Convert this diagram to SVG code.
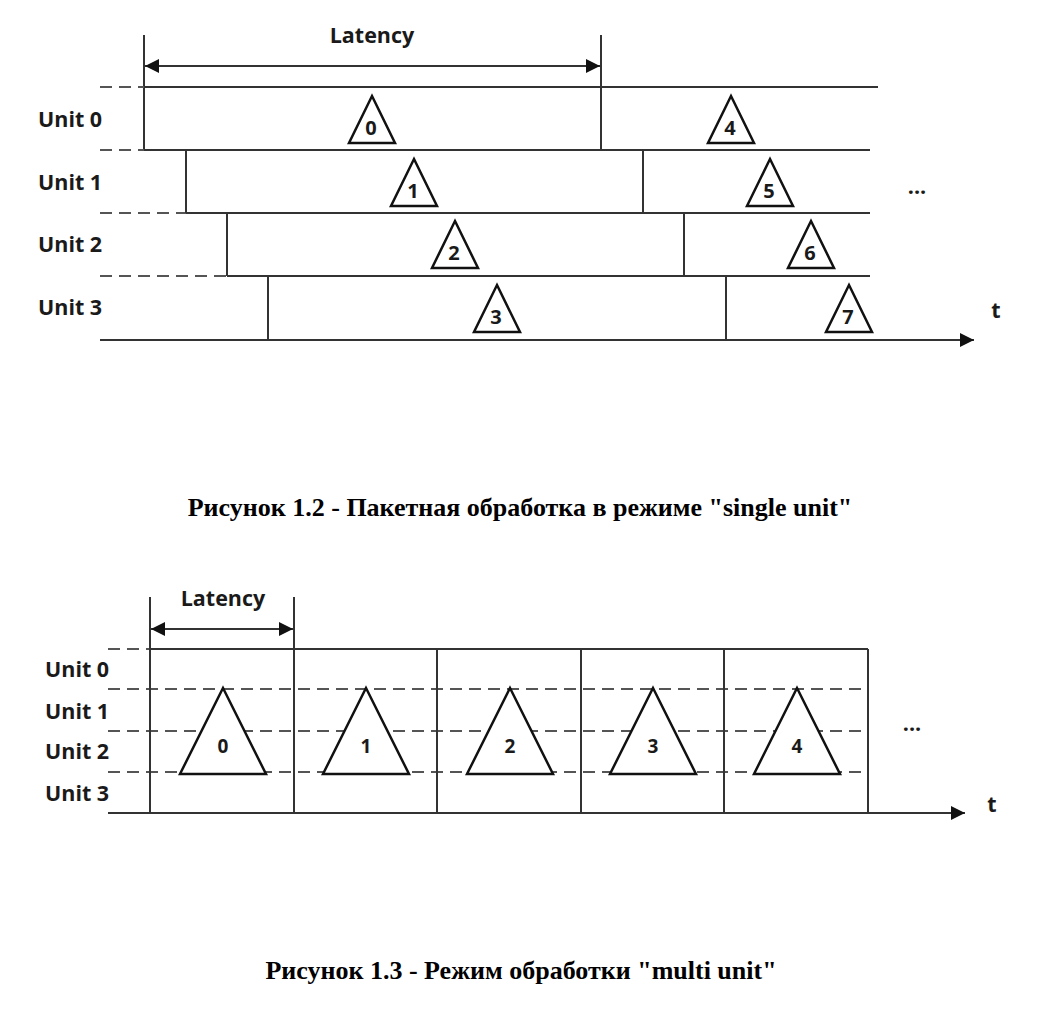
<svg xmlns="http://www.w3.org/2000/svg" width="1043" height="1025" viewBox="0 0 1043 1025">
<defs>
<marker id="ah" viewBox="0 0 10 10" refX="10" refY="5" markerWidth="21" markerHeight="14" markerUnits="userSpaceOnUse" orient="auto-start-reverse">
<path d="M0,0 L10,5 L0,10 Z" fill="#111"/>
</marker>
<style>
.ln{stroke:#333;stroke-width:2;fill:none}
.dl{stroke:#555;stroke-width:2;fill:none;stroke-dasharray:12 7}
.tri{stroke:#111;stroke-width:2.5;fill:#fff;stroke-linejoin:miter}
.lbl{font-family:"Open Sans","DejaVu Sans",sans-serif;font-weight:bold;font-size:21.5px;fill:#1a1a1a}
.num{font-family:"Open Sans","DejaVu Sans",sans-serif;font-weight:bold;font-size:20px;fill:#1a1a1a;text-anchor:middle}
.bnum{font-family:"Open Sans","DejaVu Sans",sans-serif;font-weight:bold;font-size:19px;fill:#1a1a1a;text-anchor:middle}
.cap{font-family:"Liberation Serif","Times New Roman",serif;font-weight:bold;font-size:26px;fill:#000;text-anchor:middle}
</style>
</defs>
<rect width="1043" height="1025" fill="#fff"/>

<!-- Figure 1.2 -->
<g id="connectors1">
<line class="ln" x1="144" y1="35" x2="144" y2="150"/>
<line class="ln" x1="601" y1="35" x2="601" y2="150"/>
<line class="ln" x1="145" y1="66" x2="600" y2="66" marker-start="url(#ah)" marker-end="url(#ah)"/>
<line class="dl" x1="100" y1="87" x2="144" y2="87"/>
<line class="dl" x1="100" y1="150" x2="144" y2="150"/>
<line class="dl" x1="100" y1="213" x2="186" y2="213"/>
<line class="dl" x1="100" y1="276" x2="227" y2="276"/>
<line class="ln" x1="144" y1="87" x2="878" y2="87"/>
<line class="ln" x1="144" y1="150" x2="870" y2="150"/>
<line class="ln" x1="186" y1="213" x2="870" y2="213"/>
<line class="ln" x1="227" y1="276" x2="870" y2="276"/>
<line class="ln" x1="186" y1="150" x2="186" y2="213"/>
<line class="ln" x1="643" y1="150" x2="643" y2="213"/>
<line class="ln" x1="227" y1="213" x2="227" y2="276"/>
<line class="ln" x1="684" y1="213" x2="684" y2="276"/>
<line class="ln" x1="268" y1="276" x2="268" y2="340"/>
<line class="ln" x1="726" y1="276" x2="726" y2="340"/>
<line class="ln" x1="100" y1="340" x2="974" y2="340" marker-end="url(#ah)"/>
</g>
<text class="lbl" x="372" y="43" text-anchor="middle">Latency</text>
<g id="labels1">
<text class="lbl" x="38" y="127">Unit 0</text>
<text class="lbl" x="38" y="190">Unit 1</text>
<text class="lbl" x="38" y="252">Unit 2</text>
<text class="lbl" x="38" y="315">Unit 3</text>
<text class="lbl" x="917" y="194" text-anchor="middle">...</text>
<text class="lbl" x="996" y="318" text-anchor="middle">t</text>
</g>
<g id="p0"><path class="tri" d="M372,96 L395,143 L349,143 Z"/><text class="num" x="371" y="135">0</text></g>
<g id="p1"><path class="tri" d="M414,159 L437,206 L391,206 Z"/><text class="num" x="413" y="198">1</text></g>
<g id="p2"><path class="tri" d="M455,221 L478,268 L432,268 Z"/><text class="num" x="454" y="260">2</text></g>
<g id="p3"><path class="tri" d="M497,285 L520,332 L474,332 Z"/><text class="num" x="496" y="324">3</text></g>
<g id="p4"><path class="tri" d="M731,96 L754,143 L708,143 Z"/><text class="num" x="730" y="135">4</text></g>
<g id="p5"><path class="tri" d="M770,159 L793,206 L747,206 Z"/><text class="num" x="769" y="198">5</text></g>
<g id="p6"><path class="tri" d="M811,221 L834,268 L788,268 Z"/><text class="num" x="810" y="260">6</text></g>
<g id="p7"><path class="tri" d="M849,285 L872,332 L826,332 Z"/><text class="num" x="848" y="324">7</text></g>

<text class="cap" x="520" y="516">Рисунок 1.2 - Пакетная обработка в режиме "single unit"</text>

<!-- Figure 1.3 -->
<g id="connectors2">
<line class="dl" x1="108" y1="649" x2="150" y2="649"/>
<line class="dl" x1="108" y1="689" x2="868" y2="689"/>
<line class="dl" x1="108" y1="731" x2="868" y2="731"/>
<line class="dl" x1="108" y1="772" x2="868" y2="772"/>
<line class="ln" x1="150" y1="649" x2="868" y2="649"/>
<line class="ln" x1="150" y1="597" x2="150" y2="813"/>
<line class="ln" x1="294" y1="597" x2="294" y2="813"/>
<line class="ln" x1="437" y1="649" x2="437" y2="813"/>
<line class="ln" x1="581" y1="649" x2="581" y2="813"/>
<line class="ln" x1="724" y1="649" x2="724" y2="813"/>
<line class="ln" x1="868" y1="649" x2="868" y2="813"/>
<line class="ln" x1="151" y1="629" x2="293" y2="629" marker-start="url(#ah)" marker-end="url(#ah)"/>
<line class="ln" x1="108" y1="813" x2="965" y2="813" marker-end="url(#ah)"/>
</g>
<text class="lbl" x="223" y="606" text-anchor="middle">Latency</text>
<g id="labels2">
<text class="lbl" x="45" y="677">Unit 0</text>
<text class="lbl" x="45" y="719">Unit 1</text>
<text class="lbl" x="45" y="759">Unit 2</text>
<text class="lbl" x="45" y="801">Unit 3</text>
<text class="lbl" x="912" y="731" text-anchor="middle">...</text>
<text class="lbl" x="992" y="812" text-anchor="middle">t</text>
</g>
<g id="q0"><path class="tri" d="M223,688 L266,774 L180,774 Z"/><text class="bnum" x="223" y="753">0</text></g>
<g id="q1"><path class="tri" d="M366,688 L409,774 L323,774 Z"/><text class="bnum" x="366" y="753">1</text></g>
<g id="q2"><path class="tri" d="M510,688 L553,774 L467,774 Z"/><text class="bnum" x="510" y="753">2</text></g>
<g id="q3"><path class="tri" d="M653,688 L696,774 L610,774 Z"/><text class="bnum" x="653" y="753">3</text></g>
<g id="q4"><path class="tri" d="M797,688 L840,774 L754,774 Z"/><text class="bnum" x="797" y="753">4</text></g>

<text class="cap" x="521" y="979">Рисунок 1.3 - Режим обработки "multi unit"</text>
</svg>
